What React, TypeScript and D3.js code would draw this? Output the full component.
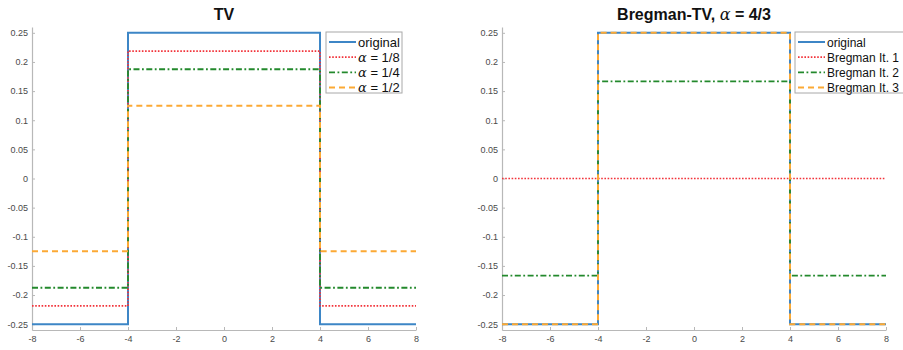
import { useEffect, useRef } from 'react'
import * as d3 from 'd3'

// step breakpoints shared by all series
const xBreaks = [-8, -4, 4, 8]
const xTicks = [-8, -6, -4, -2, 0, 2, 4, 6, 8]
const yTicks = [0.25, 0.2, 0.15, 0.1, 0.05, 0, -0.05, -0.1, -0.15, -0.2, -0.25]

// level on each of the three segments
const original = [-0.25, 0.25, -0.25]
const tvAlpha8 = [-0.21875, 0.21875, -0.21875]
const tvAlpha4 = [-0.1875, 0.1875, -0.1875]
const tvAlpha2 = [-0.125, 0.125, -0.125]
const bregIt1 = [0, 0, 0]
const bregIt2 = [-0.1667, 0.1667, -0.1667]
const bregIt3 = [-0.25, 0.25, -0.25]

const tvLabels = ['original', '1/8', '1/4', '1/2']
const bregLabels = ['original', 'Bregman It. 1', 'Bregman It. 2', 'Bregman It. 3']

const styles = [
  { color: '#3d86c6', dash: null, width: 2 },
  { color: '#f2333a', dash: '1.6,1.6', width: 1.7 },
  { color: '#23892c', dash: '6,2.5,1.8,2.5', width: 1.8 },
  { color: '#fca934', dash: '6,4', width: 2 }
]

const FONT = '"Liberation Sans", Arial, Helvetica, sans-serif'

export default function App() {
  const svgRef = useRef<SVGSVGElement>(null)

  useEffect(() => {
    const svg = d3.select(svgRef.current)
    svg.selectAll('*').remove()

    const drawPanel = (opts: {
      x0: number
      x1: number
      series: number[][]
      labels: string[]
      alphaLabels: boolean
      legendX: number
      legendW: number
      fontSize: number
      title: (g: any) => void
    }) => {
      const xScale = d3.scaleLinear([-8, 8], [opts.x0, opts.x1])
      const yScale = d3.scaleLinear([-0.26, 0.26], [330, 27])
      const g = svg.append('g')

      // y axis
      const yAxis = d3.axisLeft(yScale)
        .tickValues(yTicks)
        .tickSizeInner(-3)
        .tickSizeOuter(0)
        .tickPadding(4)
        .tickFormat(d => String(+(+d).toFixed(2)))
      const ya = g.append('g')
        .attr('transform', `translate(${opts.x0},0)`)
        .call(yAxis)

      // x axis
      const xAxis = d3.axisBottom(xScale)
        .tickValues(xTicks)
        .tickSizeInner(-3)
        .tickSizeOuter(0)
        .tickPadding(6)
        .tickFormat(d => String(d))
      const xa = g.append('g')
        .attr('transform', 'translate(0,330)')
        .call(xAxis)

      for (const a of [ya, xa]) {
        a.select('.domain').attr('stroke', '#b8b8b8').attr('stroke-width', 1.2)
        a.selectAll('.tick line').attr('stroke', '#b8b8b8')
        a.selectAll('.tick text')
          .attr('fill', '#4a4a4a')
          .style('font-family', FONT)
          .style('font-size', '9px')
      }

      // step lines
      const line = d3.line<number>()
        .x((_, i) => xScale(xBreaks[i]))
        .y(d => yScale(d))
        .curve(d3.curveStepAfter)

      opts.series.forEach((s, i) => {
        const st = styles[i]
        g.append('path')
          .datum([...s, s[s.length - 1]])
          .attr('d', line)
          .attr('fill', 'none')
          .attr('stroke', st.color)
          .attr('stroke-width', st.width)
          .attr('stroke-dasharray', st.dash)
      })

      // title
      const t = g.append('text')
        .attr('x', (opts.x0 + opts.x1) / 2)
        .attr('y', 20)
        .attr('text-anchor', 'middle')
        .style('font-family', FONT)
        .style('font-weight', 'bold')
        .style('font-size', '16px')
        .attr('fill', '#111')
      opts.title(t)

      // legend
      const lg = g.append('g').attr('transform', `translate(${opts.legendX},32)`)
      lg.append('rect')
        .attr('width', opts.legendW)
        .attr('height', 61)
        .attr('fill', 'white')
        .attr('stroke', '#a8a8a8')
        .attr('stroke-width', 1)
      opts.labels.forEach((lab, i) => {
        const y = 10 + i * 15.2
        const st = styles[i]
        lg.append('line')
          .attr('x1', 3).attr('x2', 30)
          .attr('y1', y).attr('y2', y)
          .attr('stroke', st.color)
          .attr('stroke-width', st.width)
          .attr('stroke-dasharray', st.dash)
        const tx = lg.append('text')
          .attr('x', 32)
          .attr('y', y + 4.5)
          .attr('fill', '#111')
          .style('font-family', FONT)
          .style('font-size', `${opts.fontSize}px`)
        if (opts.alphaLabels && i > 0) {
          tx.append('tspan')
            .style('font-family', '"DejaVu Serif", serif')
            .style('font-style', 'italic')
            .text('α')
          tx.append('tspan').text(` = ${lab}`)
        } else {
          tx.text(lab)
        }
      })
    }

    drawPanel({
      x0: 32, x1: 416,
      series: [original, tvAlpha8, tvAlpha4, tvAlpha2],
      labels: tvLabels,
      alphaLabels: true,
      legendX: 326, legendW: 76,
      fontSize: 13,
      title: t => t.text('TV')
    })

    drawPanel({
      x0: 502, x1: 886,
      series: [original, bregIt1, bregIt2, bregIt3],
      labels: bregLabels,
      alphaLabels: false,
      legendX: 795, legendW: 115,
      fontSize: 12,
      title: t => {
        t.append('tspan').text('Bregman-TV, ')
        t.append('tspan')
          .style('font-family', '"DejaVu Serif", serif')
          .style('font-style', 'italic')
          .style('font-weight', 'normal')
          .text('α')
        t.append('tspan').text(' = 4/3')
      }
    })
  }, [])

  return (
    <svg
      ref={svgRef}
      width={903}
      height={350}
      style={{ position: 'absolute', left: 0, top: 0, background: 'white' }}
    />
  )
}
